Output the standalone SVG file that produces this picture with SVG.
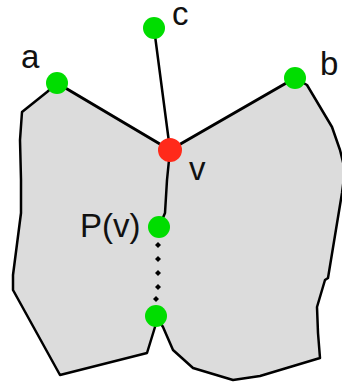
<svg xmlns="http://www.w3.org/2000/svg" width="342" height="383" viewBox="0 0 342 383">
<style>
.lbl{font-family:"Liberation Sans",Arial,sans-serif;font-size:33px;fill:#111}
.edge{fill:none;stroke:#000;stroke-width:3;stroke-linejoin:round;stroke-linecap:round}
.outline{fill:none;stroke:#000;stroke-width:2.5;stroke-linejoin:round}
.g{fill:#00dd00}
.r{fill:#ff2a1a}
.dot{fill:#000}
</style>
<path id="region" fill="#dcdcdc" d="M57,83 L170,150 L295,78 L307,85 L332,127 L340,150 L345,170 L342,193 L328,278 L325,280 L317,307 L318,333 L320,358 L260,376 L233,380 L193,368 L173,350 L163,327 L156,316 L155,327 L147,353 L60,375 L13,290 L13,275 L21,213 L21,180 L20,140 L22,112 L47,92 Z"/>
<g id="outline">
<path class="outline" d="M295,78 L307,85 L332,127 L340,150 L345,170 L342,193 L328,278 L325,280 L317,307 L318,333 L320,358 L260,376 L233,380 L193,368 L173,350 L163,327 L156,316"/>
<path class="outline" d="M156,316 L155,327 L147,353 L60,375 L13,290 L13,275 L21,213 L21,180 L20,140 L22,112 L47,92 L57,83"/>
</g>
<g id="connectors">
<path class="edge" d="M57,83 L170,150"/>
<path class="edge" d="M170,150 L295,78"/>
<path class="edge" style="stroke-width:2.5" d="M154,28 L170,150"/>
<path class="edge" style="stroke-width:2.5" d="M170,150 L167,180 L165,213 L159,227"/>
<g id="dotted">
<path class="dot" d="M158,242 l3,3 l-3,3 l-3,-3 Z"/>
<path class="dot" d="M158,256 l3,3 l-3,3 l-3,-3 Z"/>
<path class="dot" d="M158,270 l3,3 l-3,3 l-3,-3 Z"/>
<path class="dot" d="M158,284 l3,3 l-3,3 l-3,-3 Z"/>
<path class="dot" d="M156,296 l3,3 l-3,3 l-3,-3 Z"/>
</g>
</g>
<g id="node-c"><circle class="g" cx="154" cy="28" r="11"/><text class="lbl" x="172" y="25">c</text></g>
<g id="node-a"><circle class="g" cx="57" cy="83" r="11"/><text class="lbl" x="21" y="68">a</text></g>
<g id="node-b"><circle class="g" cx="295" cy="78" r="11"/><text class="lbl" x="320" y="75">b</text></g>
<g id="node-v"><circle class="r" cx="170" cy="150" r="12"/><text class="lbl" x="189" y="180">v</text></g>
<g id="node-pv"><circle class="g" cx="159" cy="227" r="11"/><text class="lbl" x="80" y="237">P(v)</text></g>
<g id="node-bottom"><circle class="g" cx="156" cy="316" r="11"/></g>
</svg>
